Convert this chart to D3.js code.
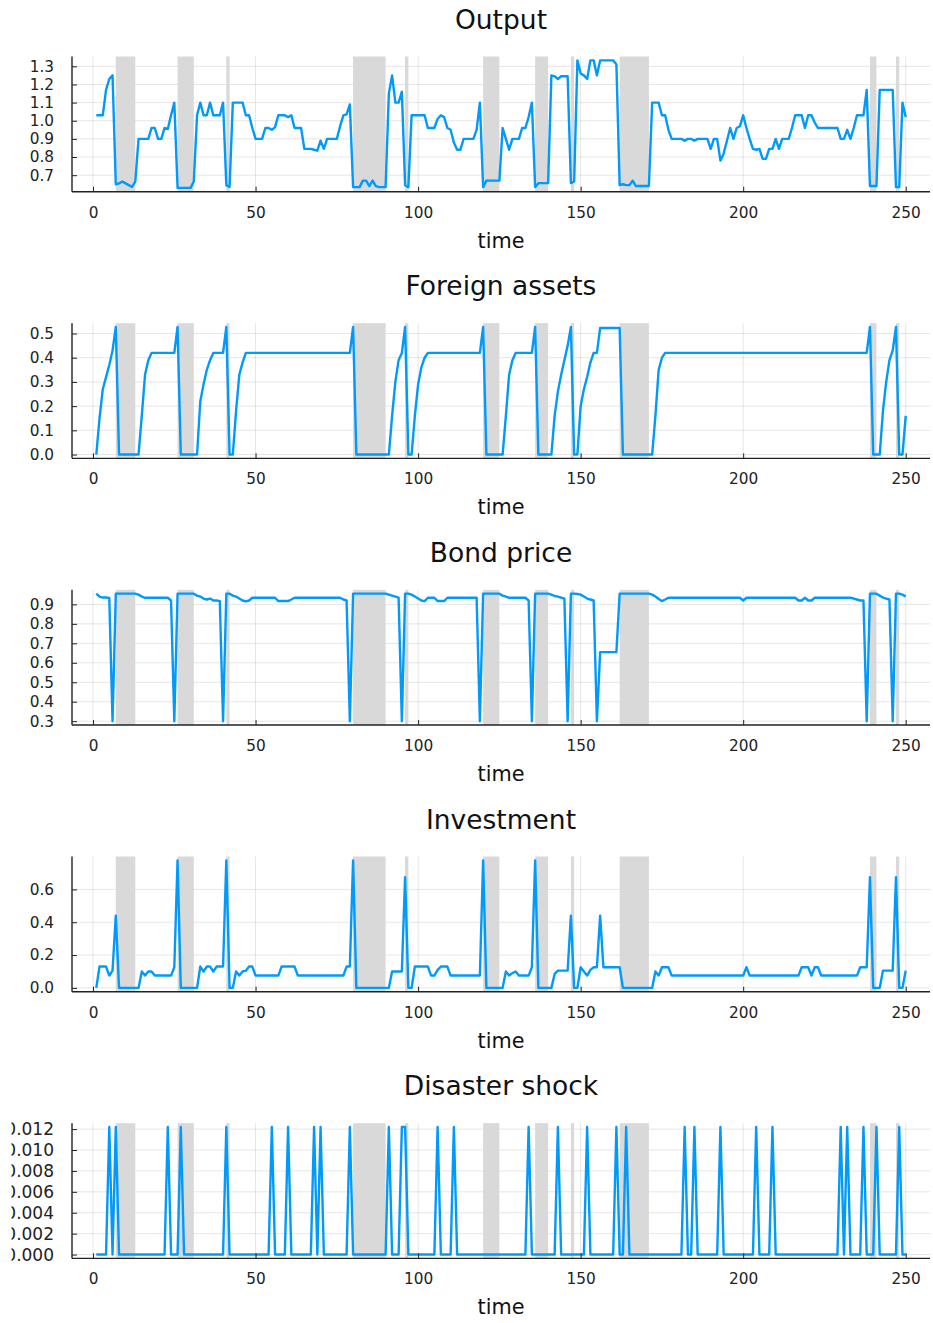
<!DOCTYPE html>
<html>
<head>
<meta charset="utf-8">
<script src="https://cdn.jsdelivr.net/npm/d3@7"></script>
<style>
  body { margin: 0; background: #fff; }
  svg { display: block; }
</style>
</head>
<body>
<script>
// ---- simulated path, t = 1..250 ----
const timeTicks = [0, 50, 100, 150, 200, 250];

// default spells: [first period, last period]
const defaultSpells = [[7,13],[26,31],[41,42],[80,90],[96,97],[120,125],[136,140],[147,148],[162,171],[239,241],[247,248]];

const output = [
  1.03,1.03,1.03,1.17,1.23,1.25,0.65,0.655,0.665,0.655,
  0.645,0.635,0.665,0.9,0.9,0.9,0.9,0.96,0.96,0.9,
  0.9,0.96,0.955,1.03,1.1,0.63,0.63,0.63,0.63,0.63,
  0.665,1.03,1.1,1.03,1.03,1.1,1.03,1.03,1.03,1.1,
  0.645,0.635,1.1,1.1,1.1,1.1,1.03,1.03,0.96,0.9,
  0.9,0.9,0.96,0.96,0.95,0.965,1.03,1.03,1.03,1.02,
  1.03,0.96,0.96,0.96,0.845,0.845,0.845,0.84,0.835,0.89,
  0.845,0.9,0.9,0.9,0.9,0.97,1.03,1.035,1.09,0.634,
  0.634,0.634,0.67,0.67,0.64,0.67,0.64,0.634,0.634,0.634,
  1.15,1.25,1.1,1.1,1.16,0.645,0.634,1.03,1.03,1.03,
  1.03,1.03,0.96,0.96,0.96,1.01,1.03,1.02,0.96,0.95,
  0.88,0.84,0.84,0.9,0.9,0.9,0.9,0.95,1.1,0.634,
  0.67,0.67,0.67,0.67,0.67,0.96,0.9,0.84,0.9,0.9,
  0.9,0.96,0.96,1.02,1.1,0.634,0.656,0.656,0.656,0.656,
  1.25,1.245,1.23,1.245,1.245,1.245,0.656,0.665,1.333,1.26,
  1.25,1.23,1.333,1.333,1.25,1.333,1.333,1.333,1.333,1.333,
  1.31,0.645,0.65,0.645,0.645,0.67,0.64,0.64,0.64,0.64,
  0.64,1.1,1.1,1.1,1.03,1.03,0.95,0.9,0.9,0.9,
  0.9,0.89,0.9,0.9,0.89,0.9,0.9,0.9,0.9,0.845,
  0.9,0.9,0.78,0.82,0.89,0.96,0.9,0.96,0.97,1.03,
  0.96,0.9,0.845,0.84,0.845,0.79,0.79,0.845,0.845,0.9,
  0.845,0.9,0.9,0.9,0.96,1.03,1.03,1.03,0.96,1.03,
  1.03,0.99,0.96,0.96,0.96,0.96,0.96,0.96,0.96,0.9,
  0.9,0.95,0.9,0.96,1.03,1.03,1.03,1.17,0.64,0.64,
  0.64,1.17,1.17,1.17,1.17,1.17,0.634,0.634,1.1,1.02
];

const foreignAssets = [
  0,0.15,0.27,0.32,0.37,0.43,0.527,0,0,0,
  0,0,0,0,0.16,0.33,0.39,0.42,0.42,0.42,
  0.42,0.42,0.42,0.42,0.42,0.527,0,0,0,0,
  0,0,0.22,0.29,0.35,0.39,0.42,0.42,0.42,0.42,
  0.527,0,0,0.18,0.33,0.38,0.42,0.42,0.42,0.42,
  0.42,0.42,0.42,0.42,0.42,0.42,0.42,0.42,0.42,0.42,
  0.42,0.42,0.42,0.42,0.42,0.42,0.42,0.42,0.42,0.42,
  0.42,0.42,0.42,0.42,0.42,0.42,0.42,0.42,0.42,0.527,
  0,0,0,0,0,0,0,0,0,0,
  0,0.16,0.3,0.39,0.42,0.527,0,0,0.16,0.29,
  0.36,0.4,0.42,0.42,0.42,0.42,0.42,0.42,0.42,0.42,
  0.42,0.42,0.42,0.42,0.42,0.42,0.42,0.42,0.42,0.527,
  0,0,0,0,0,0,0.16,0.33,0.39,0.42,
  0.42,0.42,0.42,0.42,0.42,0.527,0,0,0,0,
  0,0.16,0.26,0.33,0.39,0.45,0.527,0,0,0.2,
  0.27,0.32,0.38,0.42,0.42,0.523,0.523,0.523,0.523,0.523,
  0.523,0.523,0,0,0,0,0,0,0,0,
  0,0,0.16,0.35,0.4,0.42,0.42,0.42,0.42,0.42,
  0.42,0.42,0.42,0.42,0.42,0.42,0.42,0.42,0.42,0.42,
  0.42,0.42,0.42,0.42,0.42,0.42,0.42,0.42,0.42,0.42,
  0.42,0.42,0.42,0.42,0.42,0.42,0.42,0.42,0.42,0.42,
  0.42,0.42,0.42,0.42,0.42,0.42,0.42,0.42,0.42,0.42,
  0.42,0.42,0.42,0.42,0.42,0.42,0.42,0.42,0.42,0.42,
  0.42,0.42,0.42,0.42,0.42,0.42,0.42,0.42,0.527,0,
  0,0,0.18,0.3,0.39,0.43,0.527,0,0,0.16
];

const bondPrice = [
  0.955,0.94,0.935,0.935,0.933,0.3,0.955,0.955,0.955,0.955,
  0.955,0.955,0.955,0.95,0.94,0.934,0.934,0.934,0.934,0.934,
  0.934,0.934,0.934,0.92,0.3,0.955,0.955,0.955,0.955,0.955,
  0.955,0.945,0.94,0.93,0.925,0.93,0.92,0.92,0.917,0.3,
  0.955,0.955,0.945,0.94,0.93,0.92,0.915,0.92,0.934,0.934,
  0.934,0.934,0.934,0.934,0.934,0.934,0.917,0.917,0.917,0.917,
  0.925,0.934,0.934,0.934,0.934,0.934,0.934,0.934,0.934,0.934,
  0.934,0.934,0.934,0.934,0.934,0.934,0.925,0.92,0.3,0.955,
  0.955,0.955,0.955,0.955,0.955,0.955,0.955,0.955,0.955,0.955,
  0.95,0.945,0.94,0.935,0.3,0.955,0.955,0.95,0.94,0.93,
  0.92,0.917,0.934,0.934,0.934,0.917,0.917,0.917,0.934,0.934,
  0.934,0.934,0.934,0.934,0.934,0.934,0.934,0.934,0.3,0.955,
  0.955,0.955,0.955,0.955,0.955,0.945,0.94,0.934,0.934,0.934,
  0.934,0.934,0.934,0.92,0.3,0.955,0.955,0.955,0.955,0.955,
  0.95,0.943,0.94,0.935,0.93,0.3,0.955,0.955,0.953,0.95,
  0.94,0.93,0.925,0.92,0.3,0.655,0.655,0.655,0.655,0.655,
  0.655,0.955,0.955,0.955,0.955,0.955,0.955,0.955,0.955,0.955,
  0.955,0.95,0.94,0.928,0.917,0.925,0.934,0.934,0.934,0.934,
  0.934,0.934,0.934,0.934,0.934,0.934,0.934,0.934,0.934,0.934,
  0.934,0.934,0.934,0.934,0.934,0.934,0.934,0.934,0.934,0.92,
  0.934,0.934,0.934,0.934,0.934,0.934,0.934,0.934,0.934,0.934,
  0.934,0.934,0.934,0.934,0.934,0.934,0.92,0.92,0.934,0.92,
  0.92,0.934,0.934,0.934,0.934,0.934,0.934,0.934,0.934,0.934,
  0.934,0.934,0.934,0.93,0.925,0.92,0.92,0.3,0.955,0.955,
  0.955,0.945,0.935,0.93,0.925,0.3,0.955,0.955,0.95,0.94
];

const investment = [
  0,0.13,0.13,0.13,0.075,0.105,0.44,0,0,0,
  0,0,0,0,0.1,0.075,0.1,0.1,0.075,0.075,
  0.075,0.075,0.075,0.075,0.126,0.777,0,0,0,0,
  0,0,0.13,0.1,0.13,0.13,0.1,0.13,0.13,0.13,
  0.777,0,0,0.1,0.075,0.1,0.105,0.13,0.13,0.075,
  0.075,0.075,0.075,0.075,0.075,0.075,0.075,0.13,0.13,0.13,
  0.13,0.13,0.075,0.075,0.075,0.075,0.075,0.075,0.075,0.075,
  0.075,0.075,0.075,0.075,0.075,0.075,0.075,0.13,0.13,0.777,
  0,0,0,0,0,0,0,0,0,0,
  0,0.1,0.1,0.1,0.1,0.675,0,0,0.13,0.13,
  0.13,0.13,0.13,0.075,0.075,0.11,0.13,0.13,0.13,0.075,
  0.075,0.075,0.075,0.075,0.075,0.075,0.075,0.075,0.075,0.777,
  0,0,0,0,0,0,0.1,0.075,0.09,0.1,
  0.075,0.075,0.075,0.075,0.126,0.777,0,0,0,0,
  0,0.085,0.105,0.105,0.105,0.105,0.44,0,0,0.126,
  0.1,0.075,0.11,0.126,0.126,0.44,0.126,0.126,0.126,0.126,
  0.126,0.126,0,0,0,0,0,0,0,0,
  0,0,0.1,0.075,0.126,0.126,0.126,0.075,0.075,0.075,
  0.075,0.075,0.075,0.075,0.075,0.075,0.075,0.075,0.075,0.075,
  0.075,0.075,0.075,0.075,0.075,0.075,0.075,0.075,0.075,0.075,
  0.126,0.075,0.075,0.075,0.075,0.075,0.075,0.075,0.075,0.075,
  0.075,0.075,0.075,0.075,0.075,0.075,0.075,0.126,0.126,0.126,
  0.075,0.126,0.126,0.075,0.075,0.075,0.075,0.075,0.075,0.075,
  0.075,0.075,0.075,0.075,0.075,0.126,0.126,0.126,0.675,0,
  0,0,0.105,0.105,0.105,0.105,0.675,0,0,0.105
];

// periods in which the disaster shock hits, and its size
const disasterDates = [5,7,23,27,41,55,60,68,70,79,91,95,96,106,111,134,143,152,161,164,182,185,193,204,209,230,232,237,241,248];
const disasterSize = 0.0122;

const outputTicks = [0.7,0.8,0.9,1.0,1.1,1.2,1.3];
const assetTicks = [0.0,0.1,0.2,0.3,0.4,0.5];
const priceTicks = [0.3,0.4,0.5,0.6,0.7,0.8,0.9];
const investTicks = [0.0,0.2,0.4,0.6];
const disasterTicks = [0,0.002,0.004,0.006,0.008,0.010,0.012];

// ---- layout ----
const W = 933, H = 1323;
const plotLeft = 72, plotRight = 930;
const firstTop = 56.5, panelStep = 266.67, plotH = 135.2;
const lineColor = "#009AFA";
const font = "'DejaVu Sans', sans-serif";

const time = d3.range(1, output.length + 1);
const disaster = time.map(t => disasterDates.includes(t) ? disasterSize : 0);

const panels = [
  { title: "Output",         values: output,        ticks: outputTicks,   fmt: d3.format(".1f"), tickFont: 15.3 },
  { title: "Foreign assets", values: foreignAssets, ticks: assetTicks,    fmt: d3.format(".1f"), tickFont: 15.3 },
  { title: "Bond price",     values: bondPrice,     ticks: priceTicks,    fmt: d3.format(".1f"), tickFont: 15.3 },
  { title: "Investment",     values: investment,    ticks: investTicks,   fmt: d3.format(".1f"), tickFont: 15.3 },
  { title: "Disaster shock", values: disaster,      ticks: disasterTicks, fmt: d3.format(".3f"), tickFont: 17 }
];

const svg = d3.select("body").append("svg")
  .attr("width", W).attr("height", H)
  .style("font-family", font);

// the figure's left edge trims the widest tick labels
svg.append("defs").append("clipPath").attr("id", "figure-edge")
  .append("rect").attr("x", 11.5).attr("y", 0).attr("width", W).attr("height", H);

const tSpan = time[time.length - 1] - time[0];
const x = d3.scaleLinear()
  .domain([time[0] - 0.03 * tSpan, time[time.length - 1] + 0.03 * tSpan])
  .range([plotLeft, plotRight]);

panels.forEach((p, i) => {
  const top = firstTop + i * panelStep;
  const bottom = top + plotH;
  const [lo, hi] = d3.extent(p.values);
  const pad = 0.03 * (hi - lo);
  const y = d3.scaleLinear().domain([lo - pad, hi + pad]).range([bottom, top]);

  const g = svg.append("g").attr("clip-path", "url(#figure-edge)");

  // grid
  g.append("g").selectAll("line").data(timeTicks).join("line")
    .attr("x1", d => x(d)).attr("x2", d => x(d))
    .attr("y1", top).attr("y2", bottom)
    .attr("stroke", "#000").attr("stroke-opacity", 0.1).attr("stroke-width", 1);
  g.append("g").selectAll("line").data(p.ticks).join("line")
    .attr("x1", plotLeft).attr("x2", plotRight)
    .attr("y1", d => y(d)).attr("y2", d => y(d))
    .attr("stroke", "#000").attr("stroke-opacity", 0.1).attr("stroke-width", 1);

  // default spells
  g.append("g").selectAll("rect").data(defaultSpells).join("rect")
    .attr("x", d => x(d[0])).attr("width", d => x(d[1]) - x(d[0]))
    .attr("y", top).attr("height", bottom - top)
    .attr("fill", "#d9d9d9");

  // series
  g.append("path")
    .datum(p.values)
    .attr("fill", "none")
    .attr("stroke", lineColor)
    .attr("stroke-width", 2.4)
    .attr("stroke-linejoin", "round")
    .attr("d", d3.line().x((d, k) => x(time[k])).y(d => y(d)));

  // axes
  const xAxis = g.append("g").attr("transform", `translate(0,${bottom})`)
    .call(d3.axisBottom(x).tickValues(timeTicks).tickSize(-5).tickSizeOuter(0).tickPadding(15)
      .tickFormat(d3.format("d")));
  const yAxis = g.append("g").attr("transform", `translate(${plotLeft},0)`)
    .call(d3.axisLeft(y).tickValues(p.ticks).tickSize(-5).tickSizeOuter(0).tickPadding(18)
      .tickFormat(p.fmt));
  [xAxis, yAxis].forEach(a => {
    a.select(".domain").attr("stroke", "#222").attr("stroke-width", 1.4);
    a.selectAll(".tick line").attr("stroke", "#222").attr("stroke-width", 1);
    a.selectAll(".tick text").attr("fill", "#222").style("font-family", font);
  });
  xAxis.selectAll(".tick text").style("font-size", "15.3px");
  yAxis.selectAll(".tick text").style("font-size", p.tickFont + "px");
  xAxis.select(".domain").attr("d", `M${plotLeft},0H${plotRight}`);
  yAxis.select(".domain").attr("d", `M0,${top}V${bottom}`);

  // labels
  g.append("text")
    .attr("x", (plotLeft + plotRight) / 2).attr("y", top - 28)
    .attr("text-anchor", "middle").attr("fill", "#111")
    .style("font-size", "26.5px")
    .text(p.title);
  g.append("text")
    .attr("x", (plotLeft + plotRight) / 2).attr("y", bottom + 56)
    .attr("text-anchor", "middle").attr("fill", "#111")
    .style("font-size", "20.8px")
    .text("time");
});
</script>
</body>
</html>
